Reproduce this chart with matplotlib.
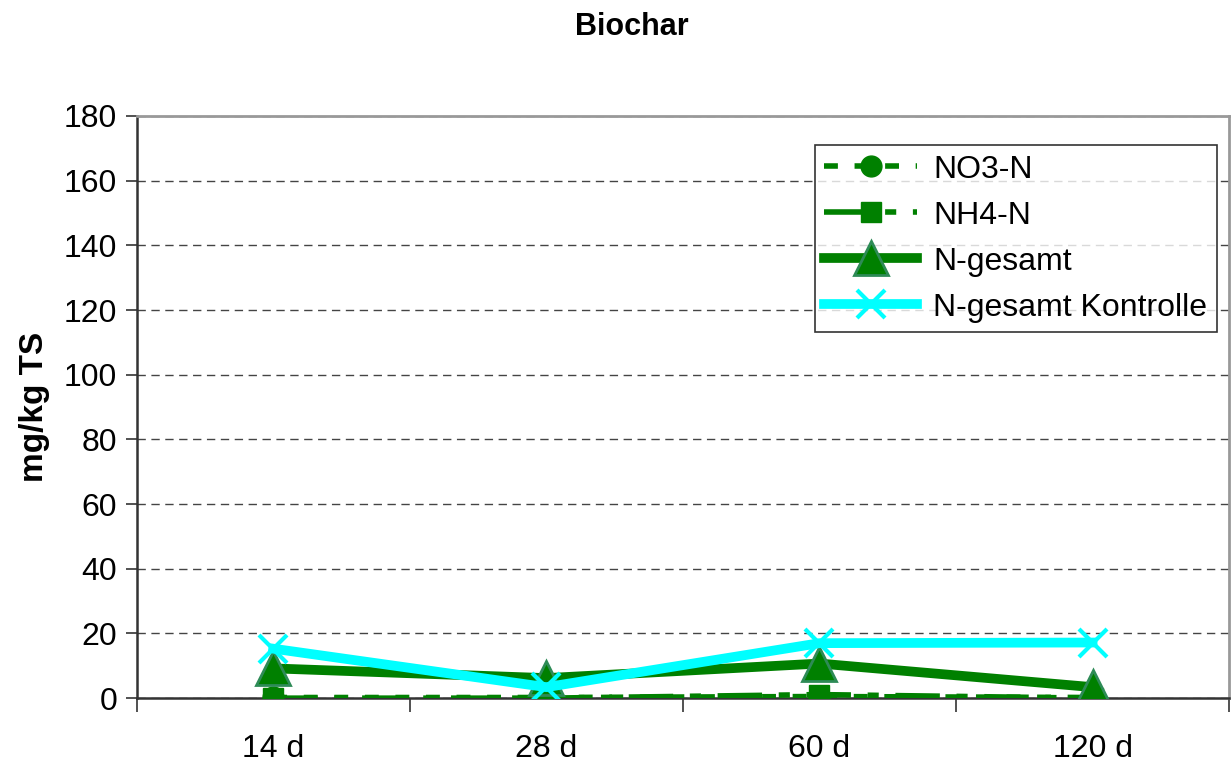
import numpy as np
import matplotlib.pyplot as plt

plt.rcParams['font.family'] = ['Liberation Sans', 'DejaVu Sans']

# Daten
tage = ["14 d", "28 d", "60 d", "120 d"]
no3_n = [0.2, 0.2, 0.5, 0.2]
nh4_n = [0.0, 0.0, 1.1, 0.0]
n_gesamt = [9.2, 6.2, 10.7, 3.4]
n_kontrolle = [15.3, 3.4, 17.0, 17.2]

fig = plt.figure(figsize=(12.31, 7.63), dpi=100)
ax = fig.add_axes([0.111, 0.085, 0.8875, 0.763])

x = np.arange(len(tage))
gruen = "#008000"

ax.plot(x, no3_n, color=gruen, lw=4, ls=(0, (2.5, 3)), marker="o", ms=15,
        label="NO3-N", zorder=3)
ax.plot(x, nh4_n, color=gruen, lw=4, ls=(0, (8, 3, 2, 3)), marker="s", ms=15,
        label="NH4-N", zorder=3)
ax.plot(x, n_gesamt, color=gruen, lw=7, marker="^", ms=24, mfc=gruen,
        mec="#2E8B57", mew=2, label="N-gesamt", zorder=4)
ax.plot(x, n_kontrolle, color="#00FFFF", lw=7, marker="x", ms=20, mew=3,
        label="N-gesamt Kontrolle", zorder=5)

ax.set_xlim(-0.5, len(tage) - 0.5)
ax.set_ylim(0, 180)
ax.set_yticks(np.arange(0, 181, 20))
ax.set_xticks(x)
ax.set_xticklabels(tage)
ax.set_xticks(np.arange(-0.5, len(tage), 1.0), minor=True)
ax.tick_params(axis="x", which="major", length=0, labelsize=23, pad=26)
ax.tick_params(axis="x", which="minor", length=10, width=1.2, color="#333333")
ax.tick_params(axis="y", length=8, width=1.2, labelsize=23, color="#333333", pad=6)

ax.yaxis.grid(True, ls=(0, (6, 4)), color="#444444", lw=1)
ax.set_axisbelow(True)

for s in ["left", "bottom"]:
    ax.spines[s].set_color("#333333")
    ax.spines[s].set_linewidth(1.8)
for s in ["top", "right"]:
    ax.spines[s].set_color("#999999")
    ax.spines[s].set_linewidth(2)

ax.set_ylabel("mg/kg TS", fontsize=24, fontweight="bold", labelpad=10)
fig.text(0.513, 0.965, "Biochar", ha="center", va="center", fontsize=22, fontweight="bold")

leg = ax.legend(loc="upper right", bbox_to_anchor=(0.9885, 0.95), fontsize=23,
                frameon=True, fancybox=False, edgecolor="black", handlelength=2.9,
                borderpad=0.3, labelspacing=0.5, handletextpad=0.5, borderaxespad=0)
leg.get_frame().set_linewidth(1.2)

fig.savefig("out.png", dpi=100)
